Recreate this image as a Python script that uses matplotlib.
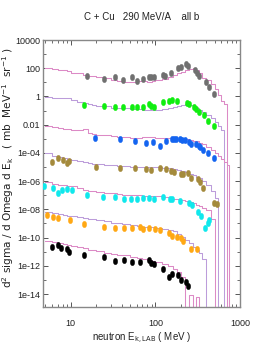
import numpy as np
import matplotlib
matplotlib.use("Agg")
import matplotlib.pyplot as plt
from matplotlib.path import Path
from matplotlib.ticker import FixedLocator, NullFormatter

# histogram bin edges of the model curves (MeV)
edges = [5, 6, 7, 8, 9, 10, 12, 14, 16, 18, 20, 25, 30, 35, 40, 50, 60, 70, 80, 90,
         100, 120, 140, 160, 180, 200, 225, 250, 275, 300, 330, 360, 400, 450, 500,
         550, 600, 650, 700, 750]

# model curves (already scaled by 10^2, 10^0, 10^-2 ...)
m_gray = [100, 92.5, 81, 72.4, 63.5, 43.6, 42.3, 33.1, 29.5, 26.7, 23.9, 19.6, 14.2, 12.4,
          11.1, 10.5, 11.5, 12.0, 11.1, 12.4, 13.5, 16.4, 23.9, 33.1, 43, 55.7, 72.4, 88, 97,
          77.3, 45.8, 20.3, 13.5, 7.2, 3.65, 1.17, 0.475, 0.29]
m_green = [0.91, 0.80, 0.75, 0.74, 0.74, 0.56, 0.40, 0.34, 0.29, 0.247, 0.228, 0.194, 0.164,
           0.152, 0.14, 0.129, 0.123, 0.117, 0.109, 0.109, 0.109, 0.119, 0.14, 0.173, 0.203,
           0.239, 0.277, 0.268, 0.228, 0.164, 0.109, 0.073, 0.048, 0.032, 0.0154, 0.008, 0.0042]
m_blue = [8.7e-3, 6.8e-3, 6.0e-3, 5.35e-3, 4.7e-3, 4.2e-3, 4.2e-3, 4.9e-3, 2.37e-3, 2.11e-3,
          1.95e-3, 1.71e-3, 1.57e-3, 1.45e-3, 1.33e-3, 1.14e-3, 1.14e-3, 1.33e-3, 1.38e-3,
          1.29e-3, 1.23e-3, 1.14e-3, 1.06e-3, 1.01e-3, 9.6e-4, 9.3e-4, 9.0e-4, 8.7e-4, 7.5e-4,
          6.7e-4, 5.4e-4, 4.3e-4, 2.8e-4, 1.73e-4, 1.06e-4, 6.5e-5, 4.0e-5, 2.26e-5, 1.38e-5]
m_olive = [9.3e-5, 6.5e-5, 5.3e-5, 4.3e-5, 3.5e-5, 3.0e-5, 2.57e-5, 2.19e-5, 1.95e-5, 1.71e-5,
           1.58e-5, 1.38e-5, 1.32e-5, 1.23e-5, 1.14e-5, 1.05e-5, 1.05e-5, 1.05e-5, 1.05e-5,
           1.05e-5, 1.0e-5, 9.1e-6, 8.2e-6, 7.0e-6, 6.1e-6, 5.2e-6, 4.1e-6, 3.3e-6, 2.7e-6,
           2.1e-6, 1.66e-6, 1.0e-6, 5.3e-7, 2.0e-7, 6.4e-8]
m_cyan = [8.6e-7, 6.65e-7, 5.65e-7, 5.0e-7, 4.65e-7, 4.35e-7, 3.0e-7, 2.34e-7, 2.09e-7, 1.92e-7,
          1.77e-7, 1.56e-7, 1.36e-7, 1.18e-7, 1.03e-7, 1.03e-7, 1.03e-7, 9.5e-8, 9.2e-8, 9.5e-8,
          9.5e-8, 8.1e-8, 6.9e-8, 5.85e-8, 5.2e-8, 4.6e-8, 3.9e-8, 3.3e-8, 2.6e-8, 2.0e-8,
          1.72e-8, 1.24e-8, 9.0e-9, 2.2e-9]
m_orange = [6.15e-9, 5.2e-9, 4.65e-9, 4.15e-9, 3.65e-9, 3.36e-9, 3.0e-9, 2.5e-9, 2.16e-9, 1.96e-9,
            1.75e-9, 1.42e-9, 1.16e-9, 1.04e-9, 9.1e-10, 7.2e-10, 6.3e-10, 5.9e-10, 5.6e-10,
            5.3e-10, 4.9e-10, 4.2e-10, 3.4e-10, 2.77e-10, 1.78e-10, 1.09e-10, 6.7e-11, 3.8e-11,
            2.3e-11, 1.31e-11, 8.0e-12, 3.0e-12]
m_black = [5.9e-11, 5.1e-11, 4.3e-11, 3.66e-11, 3.2e-11, 2.73e-11, 2.14e-11, 1.7e-11, 1.42e-11,
           1.23e-11, 1.11e-11, 8.7e-12, 7.0e-12, 6.1e-12, 5.5e-12, 4.3e-12, 3.55e-12, 3.1e-12,
           2.65e-12, 2.25e-12, 1.94e-12, 1.45e-12, 9.6e-13, 5.6e-13, 3.4e-13, 1.5e-13,
           0, 8.5e-15, 0, 6.1e-15]

# measured points
e_gray = [15.4, 24.7, 33.2, 41.6, 53, 61.4, 71.5, 84, 89.7, 95.5, 123, 131, 154, 184, 199, 232,
          246, 290, 312, 332, 398, 427, 499]
d_gray = [28, 16.4, 22.7, 14.6, 22.7, 12.4, 17.2, 25, 22.7, 22.7, 31.5, 28, 43.6, 98.7, 128,
          190, 151, 75, 48, 28, 11.1, 4.4, 1.42]
e_green = [14.3, 24.7, 33.2, 41.6, 53, 61.4, 71.5, 84, 89.7, 95.5, 123, 144, 157, 181, 238, 248,
           284, 303, 326, 373, 416, 499]
d_green = [0.25, 0.21, 0.19, 0.19, 0.17, 0.17, 0.19, 0.28, 0.21, 0.19, 0.42, 0.5, 0.56, 0.5,
           0.36, 0.29, 0.19, 0.13, 0.083, 0.048, 0.019, 0.0085]
e_blue = [19.3, 38.7, 57, 78.3, 93.7, 114.5, 132, 157, 165.5, 176.6, 193, 208, 221, 248, 265,
          303, 326, 341, 363, 424, 489]
d_blue = [1.08e-3, 9.2e-4, 7.3e-4, 5.3e-4, 6.2e-4, 3.2e-4, 7.3e-4, 9.2e-4, 9.6e-4, 9.6e-4,
          9.2e-4, 8.2e-4, 8.2e-4, 5.6e-4, 4.3e-4, 4.0e-4, 3.2e-4, 2.5e-4, 1.6e-4, 9.3e-5, 4.1e-5]
e_olive = [6.08, 7.15, 8.18, 8.97, 9.63, 19.7, 38.7, 57, 78.3, 89.7, 114.5, 134.6, 154, 165.5,
           198.5, 211, 246, 265, 317, 338, 363, 489, 531]
d_olive = [2.37e-5, 4.1e-5, 3.1e-5, 1.83e-5, 2.65e-5, 1.05e-5, 8.1e-6, 8.9e-6, 6.9e-6, 6.1e-6,
           8.9e-6, 6.9e-6, 5.5e-6, 4.6e-6, 3.2e-6, 3.2e-6, 3.75e-6, 1.58e-6, 1.34e-6, 9.1e-7,
           3.1e-7, 2.95e-8, 2.3e-8]
e_cyan = [4.85, 6.14, 7.15, 7.84, 8.97, 10.4, 15.6, 24.3, 33.2, 42.1, 52.2, 61.1, 71.5, 83.4,
          96.8, 123, 147, 157, 193, 248, 272, 321, 348, 427, 416, 387]
d_cyan = [4.5e-7, 3.5e-7, 1.5e-7, 2.54e-7, 2.67e-7, 2.23e-7, 1.09e-7, 6.9e-8, 7.8e-8, 5.75e-8,
          5.7e-8, 5.85e-8, 6.7e-8, 6.0e-8, 5.75e-8, 7.8e-8, 5.1e-8, 5.1e-8, 4.1e-8, 2.67e-8,
          2.0e-8, 6.8e-9, 3.4e-9, 1.75e-9, 1.02e-9, 4.5e-10]
e_orange = [5.22, 6.24, 7.15, 9.8, 14.3, 24.7, 33.2, 42.4, 53, 66.6, 71.5, 83.4, 98, 114.5,
            144.5, 157, 181.5, 198.5, 211, 265, 312]
d_orange = [3.95e-9, 3.0e-9, 2.3e-9, 1.75e-9, 8.7e-10, 5.3e-10, 4.5e-10, 4.5e-10, 4.5e-10,
            5.3e-10, 3.8e-10, 4.5e-10, 3.8e-10, 3.4e-10, 2.0e-10, 1.29e-10, 1.09e-10, 8.8e-11,
            6.0e-11, 1.54e-11, 1.54e-11]
e_black = [6.08, 7.15, 7.69, 8.97, 9.63, 14.3, 24.7, 33.2, 42.4, 53, 66.6, 83.4, 89.7, 95.5,
           123, 144.5, 157, 184.5, 198.5, 232, 246]
d_black = [2.24e-11, 2.96e-11, 1.73e-11, 1.47e-11, 9.9e-12, 5.8e-12, 4.0e-12, 2.3e-12, 2.56e-12,
           1.94e-12, 1.94e-12, 2.56e-12, 1.65e-12, 1.27e-12, 5.6e-13, 1.68e-13, 2.5e-13,
           2.2e-13, 9.8e-14, 7.4e-14, 3.7e-14]

ytick_vals = [1e4, 1e2, 1, 1e-2, 1e-4, 1e-6, 1e-8, 1e-10, 1e-12, 1e-14]
ytick_labels = ["10000", "100", "1", "0.01", "1e-04", "1e-06", "1e-08", "1e-10", "1e-12", "1e-14"]

pink = "#dc8ac6"
lilac = "#bc9cda"
series = [
    (m_gray, pink, e_gray, d_gray, "#707070"),
    (m_green, lilac, e_green, d_green, "#10ee10"),
    (m_blue, pink, e_blue, d_blue, "#1464f0"),
    (m_olive, lilac, e_olive, d_olive, "#a48a3c"),
    (m_cyan, pink, e_cyan, d_cyan, "#10e8ec"),
    (m_orange, lilac, e_orange, d_orange, "#ffa814"),
    (m_black, pink, e_black, d_black, "#000000"),
]

circ = Path.unit_circle()
ellipse = Path(circ.vertices * [0.68, 1.0], circ.codes)

narrow = ["Liberation Sans Narrow", "Liberation Sans", "DejaVu Sans"]

fig = plt.figure(figsize=(2.66, 3.5), dpi=100)
ax = fig.add_axes([43 / 266, 43 / 350, 197 / 266, 267 / 350])
ax.set_xscale("log")
ax.set_yscale("log", nonpositive="clip")

for model, lcol, e, d, pcol in series:
    n = len(model)
    ax.plot(edges[:n + 1], list(model) + [0], drawstyle="steps-post", color=lcol, lw=0.75, zorder=2)
    ax.plot(e, d, ls="none", marker=ellipse, ms=4.6, color=pcol, mec=pcol, mew=0.3, zorder=3)

ax.set_xlim(4.7, 1000)
ax.set_ylim(1.2e-15, 1e4)

ax.yaxis.set_major_locator(FixedLocator(ytick_vals))
ax.set_yticklabels(ytick_labels)
ax.yaxis.set_minor_locator(FixedLocator([10.0 ** k for k in range(-15, 4, 2)]))
ax.yaxis.set_minor_formatter(NullFormatter())
ax.xaxis.set_major_locator(FixedLocator([10, 100, 1000]))
ax.set_xticklabels(["10", "100", "1000"])
ax.xaxis.set_minor_locator(FixedLocator([m * 10.0 ** k for k in range(0, 3) for m in range(2, 10)]))
ax.xaxis.set_minor_formatter(NullFormatter())

ax.tick_params(which="both", direction="in", top=True, right=True, colors="#555555",
               labelcolor="#222222", labelsize=6.5)
ax.tick_params(which="major", length=3.5, width=0.7)
ax.tick_params(which="minor", length=2.2, width=0.6)
ax.tick_params(axis="x", pad=9)
ax.tick_params(axis="y", pad=2)
for lab in ax.get_xticklabels() + ax.get_yticklabels():
    lab.set_family(narrow)
for sp in ax.spines.values():
    sp.set_color("#888888")
    sp.set_linewidth(1.0)

fig.text(0.532, 1 - 17 / 350, "C + Cu   290 MeV/A    all b", ha="center", va="center",
         fontsize=7, family=narrow, color="#222222")
fig.text(0.534, 1 - 338 / 350, r"neutron E$_{\rm k,LAB}$ ( MeV )", ha="center", va="center",
         fontsize=7, family=narrow, color="#222222")
fig.text(0.032, 1 - 168 / 350,
         r"d$^2$ sigma / d Omega d E$_{\rm k}$   ( mb  MeV$^{-1}$  sr$^{-1}$ )",
         ha="center", va="center", rotation=90, fontsize=7.6, color="#222222")

fig.savefig("out.png", dpi=100)
